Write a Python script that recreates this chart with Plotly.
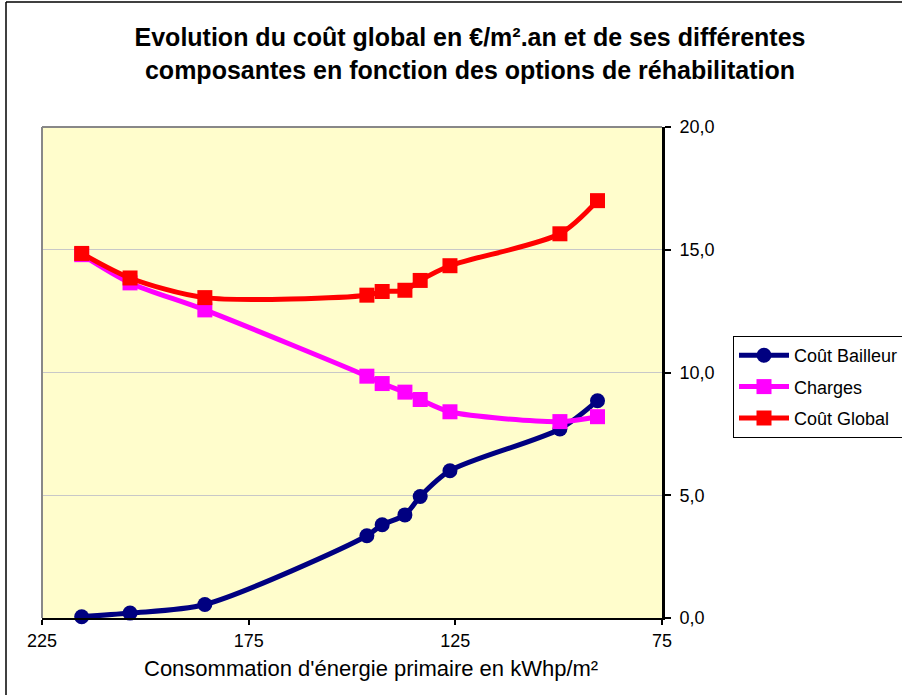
import plotly.graph_objects as go

# Primary energy consumption for each renovation option (kWhp/m²)
conso = [215.4, 203.7, 185.6, 146.4, 142.7, 137.2, 133.5, 126.3, 99.7, 90.6]

# Cost components in €/m².an
cout_bailleur = [0.05, 0.2, 0.55, 3.35, 3.8, 4.2, 4.95, 6.0, 7.7, 8.85]
charges = [14.8, 13.65, 12.55, 9.85, 9.55, 9.2, 8.9, 8.4, 8.0, 8.2]
cout_global = [14.85, 13.85, 13.05, 13.15, 13.3, 13.35, 13.75, 14.35, 15.65, 17.0]

series_names = ["Coût Bailleur", "Charges", "Coût Global"]
x_ticks = [225, 175, 125, 75]
y_ticks = [0, 5, 10, 15, 20]

FONT = "Liberation Sans, Arial, sans-serif"

# Plot-area geometry in pixels
W, H = 902, 695
L, R, T, B = 42, 662, 127, 618


def px_x(p):
    return (p - L) / (R - L)


def px_y(p):
    return (B - p) / (B - T)


fig = go.Figure()

styles = [
    dict(color="#000080", symbol="circle"),
    dict(color="#FF00FF", symbol="square"),
    dict(color="#FF0000", symbol="square"),
]
for name, vals, st in zip(series_names, [cout_bailleur, charges, cout_global], styles):
    fig.add_trace(go.Scatter(
        x=conso, y=vals, name=name, legendgroup=name, mode="lines+markers",
        line=dict(color=st["color"], width=5, shape="spline", smoothing=0.8),
        marker=dict(color=st["color"], symbol=st["symbol"], size=15,
                    line=dict(width=0)),
        cliponaxis=False,
    ))

fig.update_layout(
    width=W, height=H,
    margin=dict(l=L, r=W - R, t=T, b=H - B),
    paper_bgcolor="white",
    plot_bgcolor="#FFFDCC",
    separators=", ",
    font=dict(family=FONT, color="black"),
    title=dict(
        text="<b>Evolution du coût global en €/m².an et de ses différentes<br>"
             "composantes en fonction des options de réhabilitation</b>",
        x=470 / W, xanchor="center", y=1 - 46 / H, yanchor="middle",
        font=dict(family=FONT, size=25, color="black"),
    ),
    showlegend=True,
    legend=dict(
        xref="container", yref="container",
        x=733 / W, y=1 - 336 / H, xanchor="left", yanchor="top",
        bgcolor="white", bordercolor="black", borderwidth=1,
        font=dict(family=FONT, size=18, color="black"),
        tracegroupgap=5, itemwidth=50,
    ),
)

fig.update_xaxes(
    range=[225, 75], tickvals=x_ticks, ticktext=[str(v) for v in x_ticks],
    showgrid=False, zeroline=False,
    showline=True, linecolor="black", linewidth=2,
    ticks="outside", ticklen=5, tickwidth=2, tickcolor="black",
    tickfont=dict(family=FONT, size=18, color="black"),
)
fig.update_yaxes(
    range=[0, 20], tickvals=y_ticks, tickformat=".1f", side="right",
    showgrid=True, gridcolor="#C8C8C8", gridwidth=1, zeroline=False,
    showline=True, linecolor="black", linewidth=3,
    ticks="outside", ticklen=6, tickwidth=2, tickcolor="black",
    ticklabelstandoff=5,
    tickfont=dict(family=FONT, size=18, color="black"),
)

# Grey frame on the left and top of the plot area
fig.add_shape(type="line", xref="paper", yref="paper",
              x0=0, x1=0, y0=0, y1=1, line=dict(color="#888888", width=2))
fig.add_shape(type="line", xref="paper", yref="paper",
              x0=0, x1=1, y0=1, y1=1, line=dict(color="#888888", width=2))

# Outer chart frame (left and top edges)
fig.add_shape(type="line", xref="paper", yref="paper",
              x0=px_x(6), x1=px_x(6), y0=px_y(2), y1=px_y(720),
              line=dict(color="black", width=1.5))
fig.add_shape(type="line", xref="paper", yref="paper",
              x0=px_x(6), x1=px_x(950), y0=px_y(2), y1=px_y(2),
              line=dict(color="black", width=1.5))

# Axis title
fig.add_annotation(
    text="Consommation d'énergie primaire en kWhp/m²",
    xref="paper", yref="paper", x=px_x(371), y=px_y(668),
    xanchor="center", yanchor="middle", showarrow=False,
    font=dict(family=FONT, size=22, color="black"),
)

fig.write_html("out.html")
